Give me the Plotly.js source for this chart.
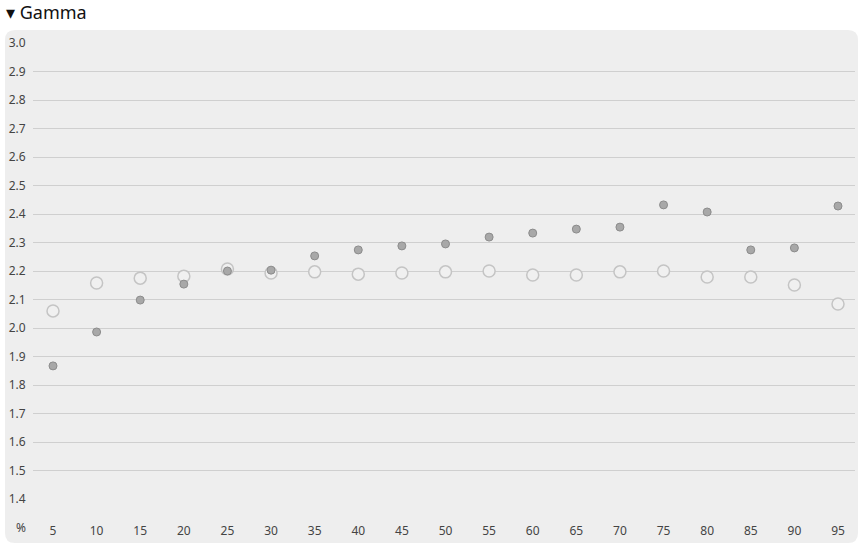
<!DOCTYPE html>
<html>
<head>
<meta charset="utf-8">
<script src="https://cdn.plot.ly/plotly-3.0.1.min.js"></script>
<style>
html,body{margin:0;padding:0;background:#ffffff;}
#chart{width:864px;height:546px;}
</style>
</head>
<body>
<div id="chart"></div>
<script>
const levels = [5,10,15,20,25,30,35,40,45,50,55,60,65,70,75,80,85,90,95];
const gammaMeasured = [1.867,1.986,2.098,2.154,2.200,2.203,2.253,2.274,2.288,2.295,2.319,2.333,2.347,2.354,2.432,2.407,2.274,2.281,2.428];
const gammaReference = [2.060,2.158,2.175,2.182,2.207,2.193,2.197,2.189,2.193,2.197,2.200,2.186,2.186,2.197,2.200,2.179,2.179,2.151,2.084];
const yTicks = [1.4,1.5,1.6,1.7,1.8,1.9,2.0,2.1,2.2,2.3,2.4,2.5,2.6,2.7,2.8,2.9,3.0];

const W = 864, H = 546;
const mL = 33, mR = 9, mT = 43, mB = 546 - 499;
const pw = W - mL - mR, ph = H - mT - mB;
function px(xp){ return (xp - mL) / pw; }
function py(yp){ return (H - mB - yp) / ph; }

// rounded panel path in paper coordinates
const x0 = 5, x1 = 858, y0 = 30, y1 = 543, r = 10;
function P(x,y){ return px(x).toFixed(5) + ',' + py(y).toFixed(5); }
const panelPath = 'M' + P(x0+r,y0) + ' L' + P(x1-r,y0) + ' Q' + P(x1,y0) + ' ' + P(x1,y0+r) +
  ' L' + P(x1,y1-r) + ' Q' + P(x1,y1) + ' ' + P(x1-r,y1) +
  ' L' + P(x0+r,y1) + ' Q' + P(x0,y1) + ' ' + P(x0,y1-r) +
  ' L' + P(x0,y0+r) + ' Q' + P(x0,y0) + ' ' + P(x0+r,y0) + ' Z';

const font = "'Segoe UI', 'Noto Sans', 'Open Sans', sans-serif";

const traces = [
  {
    x: levels, y: gammaReference, type: 'scatter', mode: 'markers',
    marker: {size: 12, color: 'rgba(240,240,240,1)', line: {color: '#c4c4c4', width: 1.5}},
    hoverinfo: 'x+y', showlegend: false
  },
  {
    x: levels, y: gammaMeasured, type: 'scatter', mode: 'markers',
    marker: {size: 8, color: '#a8a8a8', line: {color: '#8c8c8c', width: 1}},
    hoverinfo: 'x+y', showlegend: false
  }
];

const layout = {
  width: W, height: H,
  margin: {l: mL, r: mR, t: mT, b: mB, pad: 0},
  paper_bgcolor: '#ffffff',
  plot_bgcolor: 'rgba(0,0,0,0)',
  font: {family: font, size: 12, color: '#444444'},
  showlegend: false,
  xaxis: {
    type: 'linear',
    range: [5 - 20/(785/90), 95 + 17/(785/90)],
    tickvals: levels,
    ticktext: levels.map(String),
    showgrid: false, zeroline: false, showline: false,
    ticks: 'outside', ticklen: 21, tickcolor: 'rgba(0,0,0,0)',
    tickfont: {family: font, size: 12, color: '#444444'},
    fixedrange: true
  },
  yaxis: {
    range: [1.4, 3.0],
    tickvals: yTicks,
    ticktext: yTicks.map(v => v.toFixed(1)),
    showgrid: true, gridcolor: '#cfcfcf', gridwidth: 1,
    zeroline: false, showline: false,
    ticks: 'outside', ticklen: 4, tickcolor: 'rgba(0,0,0,0)',
    tickfont: {family: font, size: 12, color: '#444444'},
    fixedrange: true
  },
  shapes: [
    {type: 'path', xref: 'paper', yref: 'paper', path: panelPath,
     fillcolor: '#eeeeee', line: {width: 0}, layer: 'below'}
  ],
  annotations: [
    {xref: 'paper', yref: 'paper', x: px(5), y: py(12), xanchor: 'left', yanchor: 'middle',
     text: '▾ Gamma', showarrow: false, borderpad: 0, font: {family: font, size: 18, color: '#111111'}},
    {xref: 'paper', yref: 'paper', x: px(21), y: py(527), xanchor: 'center', yanchor: 'middle',
     text: '%', showarrow: false, font: {family: font, size: 12, color: '#444444'}}
  ]
};

Plotly.newPlot('chart', traces, layout, {displayModeBar: false, staticPlot: true});
</script>
</body>
</html>
